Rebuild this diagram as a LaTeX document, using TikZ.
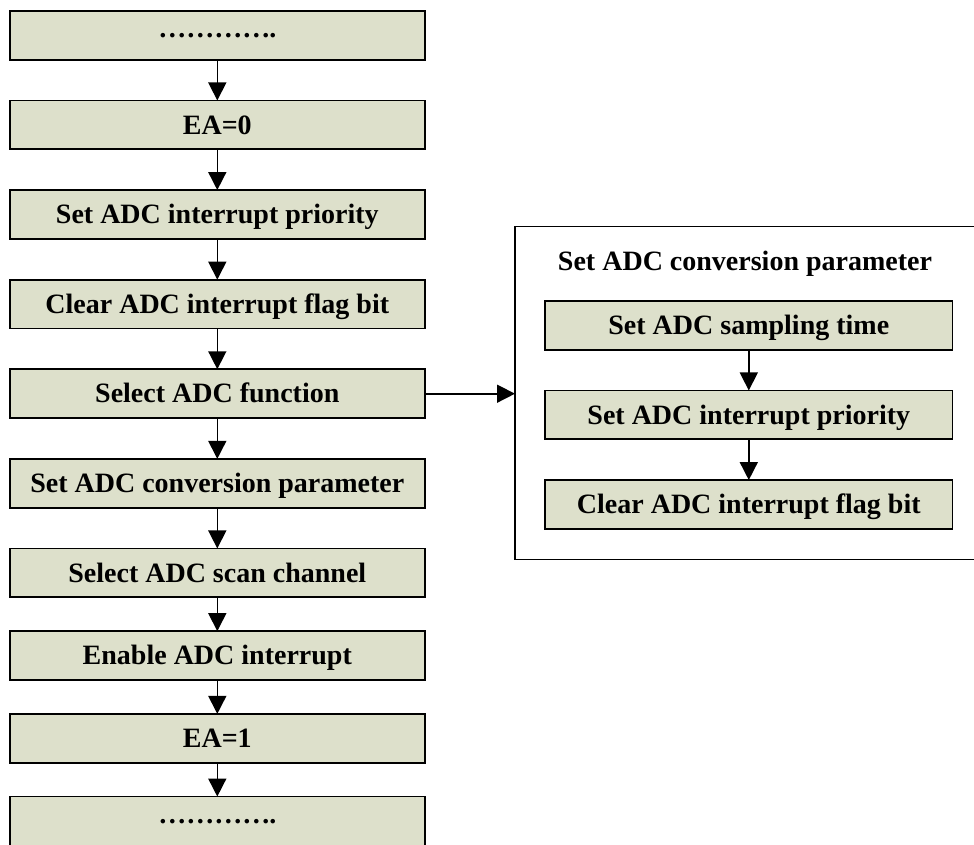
\documentclass[tikz,border=0pt]{standalone}
\usepackage{fontspec}
\setmainfont{Liberation Serif}
\usetikzlibrary{positioning,arrows.meta}
\definecolor{boxfill}{RGB}{221,224,203}

\begin{document}
\begin{tikzpicture}[x=1pt,y=-1pt,
node distance=40.7pt,
stepbox/.style={draw,fill=boxfill,line width=1.8pt,outer sep=0pt,minimum width=414.9pt,minimum height=48.9pt,text height=18.5pt,text depth=0pt,inner sep=0pt,font=\bfseries\fontsize{28}{32}\selectfont},
groupbox/.style={draw,line width=1.5pt,outer sep=0pt,minimum width=475pt,minimum height=333pt},
>={Triangle[length=18pt,width=18pt]}]
\useasboundingbox (0,0) rectangle (974,844);
\node[stepbox,text height=4pt] (dotstop) at (217.3,35.3) {…………\kern-1pt.};
\node[stepbox] (eaoff) [below=of dotstop] {EA=0};
\node[stepbox] (prio) [below=of eaoff] {Set ADC interrupt priority};
\node[stepbox] (clrflag) [below=of prio] {Clear ADC interrupt flag bit};
\node[stepbox] (selfunc) [below=of clrflag] {Select ADC function};
\node[stepbox] (convpar) [below=of selfunc] {Set ADC conversion parameter};
\node[stepbox] (scanch) [below=of convpar] {Select ADC scan channel};
\node[stepbox] (enint) [below=33.8pt of scanch] {Enable ADC interrupt};
\node[stepbox] (eaon) [below=33.8pt of enint] {EA=1};
\node[stepbox,text height=4pt] (dotsbot) [below=33.8pt of eaon] {…………\kern-1pt.};
\draw[->,line width=1.6pt] (dotstop)--(eaoff);
\draw[->,line width=1.6pt] (eaoff)--(prio);
\draw[->,line width=1.6pt] (prio)--(clrflag);
\draw[->,line width=1.6pt] (clrflag)--(selfunc);
\draw[->,line width=1.6pt] (selfunc)--(convpar);
\draw[->,line width=1.6pt] (convpar)--(scanch);
\draw[->,line width=1.6pt] (scanch)--(enint);
\draw[->,line width=1.6pt] (enint)--(eaon);
\draw[->,line width=1.6pt] (eaon)--(dotsbot);
% conversion parameter detail
\node[groupbox] (group) at (752.5,392.85) {};
\node[stepbox,draw=none,fill=none] (grouptitle) at (745,261.7) {Set ADC conversion parameter};
\node[stepbox,minimum width=407.2pt] (samptime) at (748.8,325.3) {Set ADC sampling time};
\node[stepbox,minimum width=407.2pt] (subprio) [below=of samptime] {Set ADC interrupt priority};
\node[stepbox,minimum width=407.2pt] (subclr) [below=of subprio] {Clear ADC interrupt flag bit};
\draw[->,line width=1.6pt] (samptime)--(subprio);
\draw[->,line width=1.6pt] (subprio)--(subclr);
\draw[->,line width=1.6pt] (selfunc)--(selfunc -| group.west);
\end{tikzpicture}
\end{document}
